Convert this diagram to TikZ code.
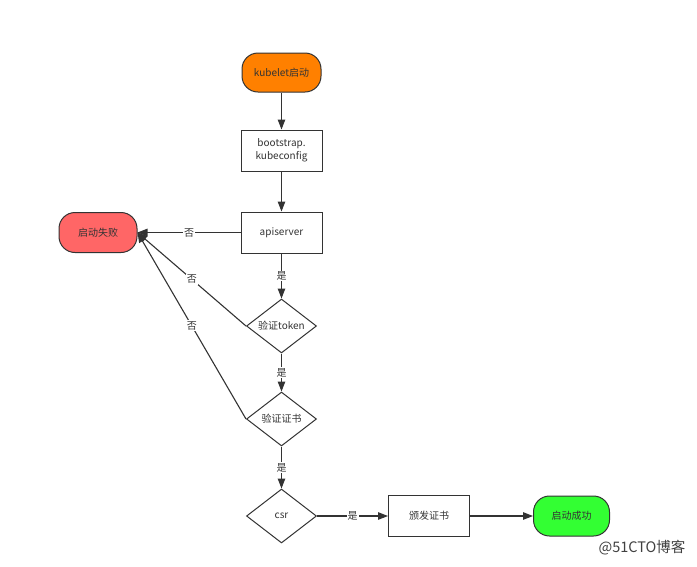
\documentclass[tikz,border=0pt]{standalone}
\usepackage{fontspec}
\setmainfont{Noto Sans CJK SC}
\usetikzlibrary{arrows.meta,positioning,shapes.geometric}

\definecolor{linegray}{HTML}{333333}
\definecolor{startorange}{HTML}{FF8000}
\definecolor{failred}{HTML}{FF6666}
\definecolor{okgreen}{HTML}{33FF33}

\tikzset{
  every node/.style={text=linegray, font=\fontsize{10}{12.5}\selectfont},
  terminal/.style={draw=linegray, line width=1pt, rounded corners=16pt,
    minimum width=78pt, minimum height=40pt, inner sep=2pt},
  process/.style={draw=linegray, line width=1pt, minimum width=81pt,
    minimum height=41pt, align=center, inner sep=2pt},
  decision/.style={diamond, aspect=1.3, draw=linegray, line width=1pt,
    inner sep=0pt, minimum width=70pt, minimum height=54pt},
  lbl/.style={fill=white, inner sep=1pt},
  flow/.style={color=linegray, line width=1.1pt, -{Triangle[length=10pt,width=7.5pt]}}
}

\begin{document}
\begin{tikzpicture}
\useasboundingbox (0,0) rectangle (697pt,-566pt);

\node[terminal, fill=startorange, minimum width=79pt, minimum height=39pt] (kub) at (281.5pt,-72.5pt) {kubelet启动};
\node[process, below=37pt of kub] (boot) {bootstrap.\\kubeconfig};
\node[process, below=40pt of boot] (api) {apiserver};
\node[decision, below=45pt of api] (tok) {验证token};
\node[decision, below=38pt of tok] (cert) {验证证书};
\node[decision, below=42pt of cert] (csr) {csr};
\node[terminal, fill=failred, left=103pt of api] (fail) {启动失败};
\node[process, right=71pt of csr] (issue) {颁发证书};
\node[terminal, fill=okgreen, minimum width=76pt, right=63pt of issue] (ok) {启动成功};

\node[anchor=east, font=\fontsize{14.5}{17}\selectfont, text=black!75] (wm) at (689pt,-548pt) {@51CTO博客};

\path[flow]
  (kub) edge (boot)
  (boot) edge (api)
  (api) edge node[lbl] {是} (tok)
  (tok) edge node[lbl] {是} (cert)
  (cert) edge node[lbl] {是} (csr)
  (api) edge node[lbl] {否} (fail)
  (tok.west) edge node[lbl] {否} (fail.east)
  (cert.west) edge node[lbl] {否} (fail.east)
  (csr) edge node[lbl] {是} (issue)
  (issue) edge (ok);
\end{tikzpicture}
\end{document}
